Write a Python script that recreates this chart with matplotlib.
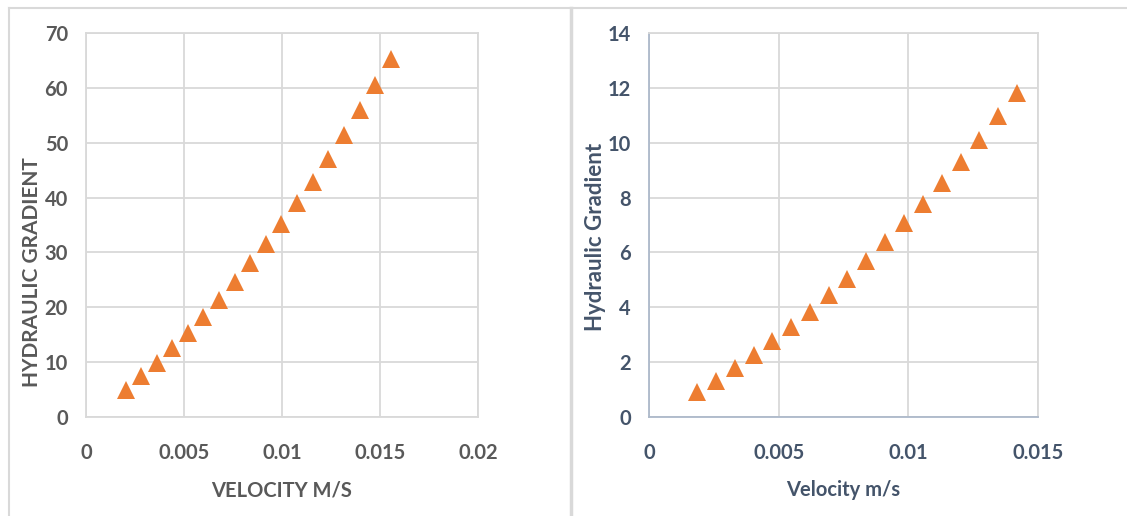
import matplotlib.pyplot as plt
from matplotlib.lines import Line2D

# left chart: uppercase labels
vel_left = [0.00203, 0.00281, 0.00361, 0.00441, 0.00519, 0.00599, 0.00679, 0.00759, 0.00837,
            0.00917, 0.00997, 0.01077, 0.01157, 0.01237, 0.01316, 0.01396, 0.01476, 0.01556]
grad_left = [5.0, 7.4, 9.9, 12.5, 15.3, 18.3, 21.3, 24.6, 28.0,
             31.5, 35.2, 39.0, 42.9, 47.1, 51.4, 55.9, 60.6, 65.2]

# right chart
vel_right = [0.00184, 0.00257, 0.00331, 0.00403, 0.00475, 0.00548, 0.00620, 0.00693, 0.00765,
             0.00837, 0.00911, 0.00984, 0.01056, 0.01130, 0.01202, 0.01274, 0.01346, 0.01420]
grad_right = [0.90, 1.32, 1.79, 2.25, 2.76, 3.29, 3.84, 4.43, 5.04,
              5.70, 6.37, 7.06, 7.76, 8.53, 9.30, 10.11, 10.96, 11.81]

left_xticks = [0, 0.005, 0.01, 0.015, 0.02]
left_xlabels = ["0", "0.005", "0.01", "0.015", "0.02"]
left_yticks = [0, 10, 20, 30, 40, 50, 60, 70]
right_xticks = [0, 0.005, 0.01, 0.015]
right_xlabels = ["0", "0.005", "0.01", "0.015"]
right_yticks = [0, 2, 4, 6, 8, 10, 12, 14]

ORANGE = "#ED7D31"
GRID = "#D9D9D9"

plt.rcParams["font.family"] = ["Lato", "DejaVu Sans"]
plt.rcParams["font.weight"] = "bold"

fig = plt.figure(figsize=(11.27, 5.16), dpi=100)
W, H = 1127, 516


def box(x0, x1, y0, y1):
    return [x0 / W, 1 - y1 / H, (x1 - x0) / W, (y1 - y0) / H]


def style(ax, xs, ys, xticks, xlabels, yticks, xlabel, ylabel, text_color, spine_color,
          xlim, ylim, ylab_pos, xlab_pos, ylab_size):
    ax.plot(xs, ys, "^", color=ORANGE, markersize=13.5, markeredgewidth=0, zorder=3)
    ax.set_xlim(*xlim)
    ax.set_ylim(*ylim)
    ax.set_xticks(xticks, xlabels)
    ax.set_yticks(yticks)
    ax.grid(True, color=GRID, linewidth=1.3, zorder=0)
    ax.set_axisbelow(True)
    for side, sp in ax.spines.items():
        sp.set_color(spine_color if side in ("left", "bottom") else GRID)
        sp.set_linewidth(1.3)
    ax.tick_params(axis="y", pad=13)
    ax.tick_params(axis="x", pad=19)
    ax.tick_params(length=0, labelsize=14.5, labelcolor=text_color)
    ax.set_xlabel(xlabel, fontsize=14.5, color=text_color, fontweight="bold")
    ax.set_ylabel(ylabel, fontsize=ylab_size, color=text_color, fontweight="bold")
    ax.yaxis.set_label_coords(*ylab_pos)
    ax.xaxis.set_label_coords(*xlab_pos)


ax1 = fig.add_axes(box(86, 478, 33, 417))
style(ax1, vel_left, grad_left, left_xticks, left_xlabels, left_yticks,
      "VELOCITY M/S", "HYDRAULIC GRADIENT", "#595959", GRID,
      (0, 0.02), (0, 70), (-0.112, 0.378), (0.5, -0.165), 15)

ax2 = fig.add_axes(box(649, 1038, 33, 417))
style(ax2, vel_right, grad_right, right_xticks, right_xlabels, right_yticks,
      "Velocity m/s", "Hydraulic Gradient", "#44546A", "#ADB9CA",
      (0, 0.015), (0, 14), (-0.11, 0.469), (0.5, -0.165), 16)

# chart frames
frame = dict(color="#D9D9D9", linewidth=1.5, transform=fig.transFigure)
fig.add_artist(Line2D([9 / W, 1], [1 - 8 / H, 1 - 8 / H], **frame))
fig.add_artist(Line2D([9 / W, 9 / W], [0, 1 - 8 / H], **frame))
fig.add_artist(Line2D([571 / W, 571 / W], [0, 1 - 8 / H], color="#D9D9D9", linewidth=2.5,
                      transform=fig.transFigure))

fig.savefig("out.png", dpi=100)
